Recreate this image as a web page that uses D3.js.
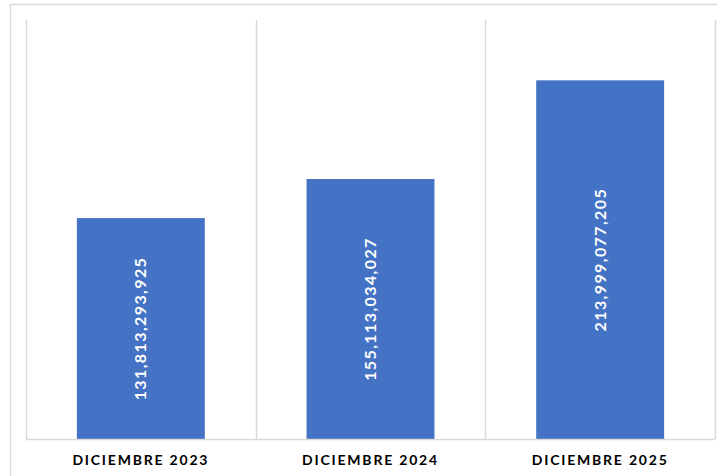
<!doctype html>
<html lang="es">
<head>
<meta charset="utf-8">
<script src="https://d3js.org/d3.v7.min.js"></script>
<style>
body { margin: 0; background: #fff; }
svg { display: block; }
.cat { font: bold 14px Lato, sans-serif; letter-spacing: 1.8px; fill: #000; }
.val { font: bold 16px Lato, sans-serif; letter-spacing: 1.4px; fill: #fff; }
</style>
</head>
<body>
<div id="chart"></div>
<script>
// datos
var categories = ["DICIEMBRE 2023", "DICIEMBRE 2024", "DICIEMBRE 2025"];
var values = [131813293925, 155113034027, 213999077205];
var yDomain = [0, 250e9];

var width = 717, height = 476;
var plot = { left: 26, right: 715, top: 20, bottom: 439 };

var svg = d3.select("#chart").append("svg")
    .attr("width", width)
    .attr("height", height);

// marco exterior
svg.append("rect")
    .attr("x", 10.5).attr("y", 4.5)
    .attr("width", 720).attr("height", 480)
    .attr("fill", "none")
    .attr("stroke", "#d9d9d9")
    .attr("stroke-width", 1.5);

var x = d3.scaleBand()
    .domain(categories)
    .range([plot.left, plot.right])
    .padding(0);

var y = d3.scaleLinear()
    .domain(yDomain)
    .range([plot.bottom, plot.top]);

var barW = x.bandwidth() * 0.557;

// lineas verticales entre categorias
var edges = categories.map(function(c) { return x(c); }).concat([plot.right]);
svg.selectAll(".grid")
    .data(edges)
  .enter().append("line")
    .attr("class", "grid")
    .attr("x1", function(d) { return Math.round(d) + 0.5; })
    .attr("x2", function(d) { return Math.round(d) + 0.5; })
    .attr("y1", plot.top)
    .attr("y2", plot.bottom)
    .attr("stroke", "#d9d9d9")
    .attr("stroke-width", 1.5);

svg.selectAll(".bar")
    .data(values)
  .enter().append("rect")
    .attr("class", "bar")
    .attr("x", function(d, i) { return x(categories[i]) + (x.bandwidth() - barW) / 2; })
    .attr("width", barW)
    .attr("y", function(d) { return y(d); })
    .attr("height", function(d) { return y(0) - y(d); })
    .attr("fill", "#4472c4");

// eje inferior
svg.append("line")
    .attr("x1", plot.left).attr("x2", plot.right)
    .attr("y1", plot.bottom + 0.5).attr("y2", plot.bottom + 0.5)
    .attr("stroke", "#d9d9d9")
    .attr("stroke-width", 1.5);

svg.selectAll(".cat")
    .data(categories)
  .enter().append("text")
    .attr("class", "cat")
    .attr("x", function(d) { return x(d) + x.bandwidth() / 2; })
    .attr("y", 465)
    .attr("text-anchor", "middle")
    .text(function(d) { return d; });

var fmt = d3.format(",");
svg.selectAll(".val")
    .data(values)
  .enter().append("text")
    .attr("class", "val")
    .attr("transform", function(d, i) {
        var cx = x(categories[i]) + x.bandwidth() / 2;
        var cy = (y(d) + y(0)) / 2;
        return "translate(" + (cx + 5.5) + "," + cy + ") rotate(-90)";
    })
    .attr("text-anchor", "middle")
    .text(function(d) { return fmt(d); });
</script>
</body>
</html>
